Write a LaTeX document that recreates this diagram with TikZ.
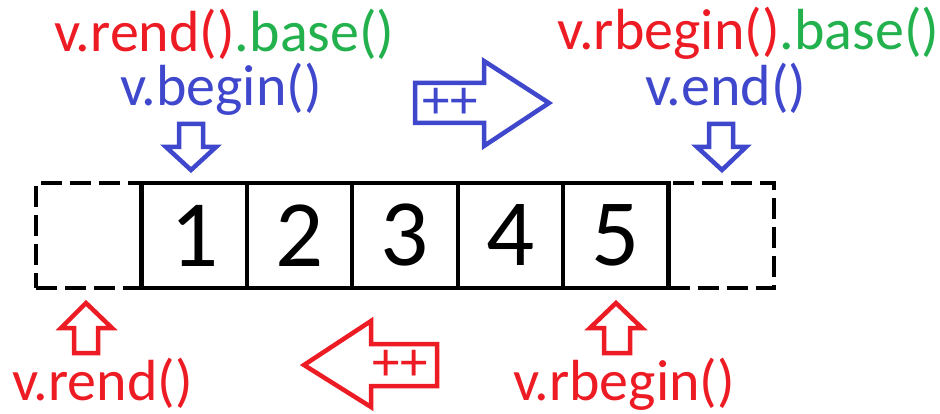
\documentclass[tikz,border=0pt]{standalone}
\usepackage{fontspec}
\setmainfont{Carlito}
\definecolor{pred}{RGB}{237,28,36}
\definecolor{pgreen}{RGB}{34,177,76}
\definecolor{pblue}{RGB}{63,72,204}
\begin{document}
\begin{tikzpicture}[x=1pt,y=-1pt,
  cell/.style={draw,line width=4.2pt,minimum width=105.4pt,minimum height=105pt,inner sep=0pt,
    font=\fontsize{95}{95}\selectfont},
  dcell/.style={cell,dash pattern=on 21pt off 8pt},
  lbl/.style={inner sep=0pt,anchor=base,font=\fontsize{58}{62}\selectfont},
  pp/.style={inner sep=0pt,font=\fontsize{55}{60}\selectfont},
  blk/.style={line width=4.5pt,line join=miter}
]
\useasboundingbox (0,0) rectangle (940,414);
% dashed end cells
\node[dcell] (e0) at (88.7,235.5) {};
\node[dcell] (e6) at (721.3,235.5) {};
% solid cells
\node[cell] (c1) at (194.1,235.5) {1};
\node[cell] (c2) at (299.5,235.5) {2};
\node[cell] (c3) at (404.9,235.5) {3};
\node[cell] (c4) at (510.3,235.5) {4};
\node[cell] (c5) at (615.7,235.5) {5};
% labels
\node[lbl] (t1) at (224.5,52) {\textcolor{pred}{v.rend()}\textcolor{pgreen}{.base()}};
\node[lbl,text=pblue] (t2) at (221,106) {v.begin()};
\node[lbl] (t3) at (748.5,50) {\textcolor{pred}{v.rbegin()}\textcolor{pgreen}{.base()}};
\node[lbl,text=pblue] (t4) at (726,106) {v.end()};
\node[lbl,text=pred] (t5) at (102.5,400) {v.rend()};
\node[lbl,text=pred] (t6) at (624,400) {v.rbegin()};
% block arrows
\draw[blk,pblue] (179,124) -- (203,124) -- (203,147) -- (216,147) -- (191,170) -- (166,147) -- (179,147) -- cycle;
\draw[blk,pblue] (709,124) -- (733,124) -- (733,147) -- (746,147) -- (722,170) -- (697,147) -- (709,147) -- cycle;
\draw[blk,pred] (74,353) -- (98,353) -- (98,328) -- (112,328) -- (86,303) -- (61,328) -- (74,328) -- cycle;
\draw[blk,pred] (604,353) -- (630,353) -- (630,328) -- (642,328) -- (616,303) -- (590,328) -- (604,328) -- cycle;
\draw[blk,pblue] (415,83) -- (484,83) -- (484,61) -- (549,103) -- (484,146) -- (484,123) -- (415,123) -- cycle;
\draw[blk,pred] (437,344) -- (371,344) -- (371,321) -- (304,365) -- (371,407) -- (371,386) -- (437,386) -- cycle;
\node[pp,text=pblue] (inc1) at (450.5,103) {++};
\node[pp,text=pred] (inc2) at (400.5,365) {++};
\end{tikzpicture}
\end{document}
